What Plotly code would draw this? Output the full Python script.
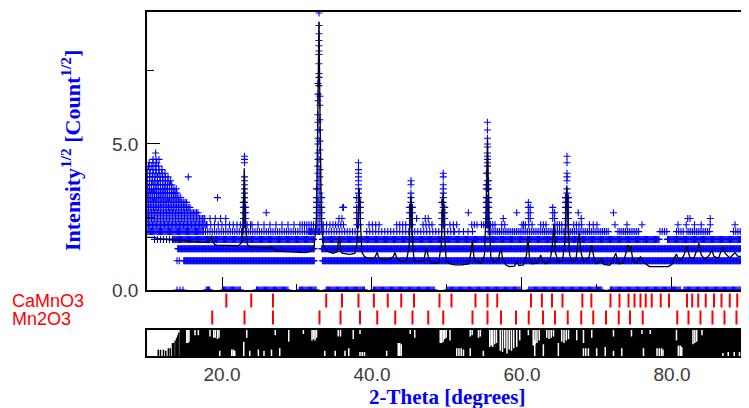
import numpy as np
import plotly.graph_objects as go

# ---------------- data ----------------
# observed intensities are sqrt(counts); bands per count level:
# (count, x_start, x_end, spacing in degrees)
obs_bands = [
    (0, 14.0, 14.8, 0.4), (0, 17.9, 18.4, 0.15), (0, 20.2, 22.5, 0.15), (0, 24.6, 28.8, 0.15),
    (0, 30.3, 32.6, 0.15), (0, 33.9, 39.1, 0.15), (0, 40.2, 48.4, 0.15), (0, 50.0, 59.8, 0.15),
    (0, 60.9, 70.7, 0.15), (0, 71.8, 81.1, 0.15), (0, 81.6, 90.3, 0.15),
    (1, 14.0, 14.3, 0.3), (1, 14.9, 32.3, 0.1), (1, 33.4, 90.3, 0.1),
    (2, 14.1, 32.3, 0.1), (2, 33.3, 90.3, 0.1),
    (3, 11.0, 13.5, 0.4), (3, 13.5, 32.3, 0.12), (3, 33.4, 78.3, 0.12), (3, 79.4, 90.3, 0.12),
    (4, 10.0, 17.5, 0.15), (4, 17.5, 31.5, 0.3), (4, 31.5, 33.0, 0.15), (4, 33.2, 38.2, 0.35),
    (4, 39.3, 51.0, 0.4), (4, 51.0, 53.7, 0.6), (4, 55.5, 71.5, 0.25), (4, 72.8, 75.7, 0.25),
    (4, 78.4, 79.3, 0.3), (4, 80.6, 81.5, 0.3), (4, 82.0, 85.1, 0.25), (4, 88.2, 90.3, 0.3),
    (5, 10.0, 18.0, 0.18), (5, 18.0, 21.5, 0.5), (5, 22.0, 24.0, 0.45), (5, 24.0, 30.0, 0.8),
    (5, 30.4, 32.3, 0.3), (5, 33.5, 34.5, 0.45), (5, 34.8, 36.4, 0.35), (5, 39.6, 41.3, 0.45),
    (5, 43.3, 44.6, 0.4), (5, 46.8, 48.2, 0.4), (5, 50.4, 51.7, 0.45), (5, 53.3, 54.0, 0.35),
    (5, 54.6, 56.4, 0.3), (5, 57.3, 57.7, 0.4), (5, 60.0, 61.5, 0.45), (5, 62.5, 63.2, 0.35),
    (5, 64.4, 65.3, 0.3), (5, 66.9, 68.2, 0.35), (5, 69.0, 70.0, 0.5),
    (6, 10.0, 17.7, 0.2), (6, 17.7, 21.0, 0.7),
    (7, 10.0, 16.8, 0.2), (8, 10.0, 15.8, 0.22), (9, 10.0, 15.3, 0.22),
    (10, 10.0, 14.7, 0.25), (11, 10.0, 14.2, 0.25), (12, 10.0, 13.9, 0.3),
    (13, 10.0, 13.5, 0.3), (14, 10.0, 13.2, 0.35), (15, 10.0, 12.9, 0.35),
    (16, 10.0, 12.5, 0.4), (17, 10.0, 12.2, 0.4), (18, 10.2, 11.8, 0.45),
    (19, 10.3, 11.5, 0.5), (20, 10.8, 11.6, 0.4),
]

# isolated observed points (x, count)
obs_single = [
    (11.15, 22), (15.5, 15), (19.4, 10), (25.9, 7), (36.2, 8), (52.85, 7), (59.3, 7),
    (57.5, 6), (72.2, 7), (72.4, 5), (74.0, 5), (76.0, 5), (80.8, 5), (81.9, 5),
    (82.4, 6), (83.0, 5), (83.9, 5), (85.1, 5), (85.1, 6), (88.4, 5), (82.1, 6),
    (67.5, 7), (67.9, 6), (47.1, 6), (47.5, 6), (45.95, 6), (35.6, 6), (36.0, 6),
    (36.1, 8), (60.2, 5),
]

# observed points stacked at the Bragg peaks: x and counts
peak_stack_x = [22.85, 23.0, 23.15, 32.8, 32.93, 33.05, 32.6, 33.3, 37.95, 38.2, 38.45,
                45.0, 45.2, 45.4, 49.3, 49.5, 49.7, 55.25, 55.4, 55.55, 60.85, 61.1,
                64.1, 64.35, 65.8, 66.0, 66.2]
peak_stack_n = [
    [9, 8, 7, 6, 5],
    [21, 20, 19, 15, 14, 13, 12, 11, 10, 9, 8, 7, 6, 5],
    [8, 7, 6, 5],
    [50, 45, 42, 36, 33, 30, 27, 25, 22, 20, 18, 16, 14, 12, 10, 9, 8, 7, 6, 5],
    [90, 82, 77, 73, 70, 67, 65, 60, 55, 53, 49],
    [44, 40, 34, 30, 26, 23, 20, 17, 15, 13, 11, 9, 8, 7, 6, 5],
    [12, 10, 9, 8, 7, 6, 5],
    [10, 8, 7, 6, 5],
    [10, 8, 7, 6, 5],
    [19, 17, 16, 15, 14, 13, 12, 11, 10, 9, 8, 7, 6, 5],
    [9, 8, 7, 6, 5],
    [8, 7, 6, 5],
    [14, 13, 11, 10, 9, 8, 7, 6, 5],
    [8, 7, 6, 5],
    [9, 7, 6, 5],
    [16, 15, 13, 12, 11, 10, 9, 8, 7, 6, 5],
    [8, 7, 6, 5],
    [16, 13, 12, 10, 9, 8, 7, 6, 5],
    [33, 30, 27, 25, 24, 22, 21, 20, 19, 18, 16, 14, 13, 12, 10, 9, 8, 7, 6, 5],
    [14, 12, 10, 9, 8, 7, 6, 5],
    [9, 8, 7, 6],
    [8, 7, 6],
    [8, 7, 6],
    [7, 6],
    [10, 9, 8, 7, 6, 5],
    [21, 19, 16, 15, 14, 12, 11, 10, 9, 8, 7, 6, 5],
    [10, 9, 8, 7, 6, 5],
]

# calculated profile
calc_x = [10.0, 11.0, 11.4, 12.5, 13.0, 14.5, 16.0, 17.3, 18.2, 18.45, 18.6, 18.75, 19.0, 19.3,
          21.0, 22.2, 22.6, 22.8, 22.97, 23.15, 23.35, 23.6, 25.0, 25.7, 26.4, 26.6, 26.8, 27.5,
          29.3, 30.1, 31.1, 31.8, 32.3, 32.6, 32.8, 32.93, 33.07, 33.25, 33.5, 33.8, 34.2, 34.8,
          35.3, 35.5, 35.64, 35.8, 36.0, 37.0, 37.7, 38.0, 38.15, 38.3, 38.45, 38.65, 39.0, 39.5,
          40.3, 40.55, 40.7, 40.9, 41.3, 42.4, 42.85, 43.07, 43.3, 43.7, 44.6, 44.95, 45.1, 45.2,
          45.35, 45.6, 46.0, 46.9, 47.1, 47.3, 47.5, 47.9, 48.9, 49.25, 49.4, 49.5, 49.65, 49.9,
          50.3, 51.0, 52.0, 52.9, 53.2, 53.4, 53.6, 53.9, 54.6, 55.0, 55.2, 55.4, 55.6, 55.85,
          56.2, 56.8, 57.0, 57.2, 57.4, 57.8, 58.3, 59.0, 59.3, 59.6, 60.2, 60.6, 60.8, 61.0,
          61.3, 62.0, 62.3, 62.5, 62.7, 63.1, 63.7, 64.0, 64.27, 64.45, 64.8, 65.4, 65.7, 65.85,
          65.96, 66.1, 66.35, 66.7, 67.2, 67.45, 67.64, 67.85, 68.2, 68.9, 69.3, 69.6, 69.9,
          70.3, 70.6, 70.9, 71.4, 71.7, 72.0, 72.5, 72.9, 73.5, 73.9, 74.1, 74.3, 74.5, 74.8,
          75.3, 75.8, 76.3, 76.7, 77.0, 79.5, 80.0, 80.2, 80.6, 80.9, 81.3, 81.6, 82.0, 82.4,
          82.9, 83.3, 83.6, 83.9, 84.4, 85.0, 85.3, 85.6, 86.2, 86.5, 86.8, 87.1, 87.7, 88.1,
          88.4, 88.8, 89.5, 89.96, 90.3]
calc_y = [1.80, 1.80, 1.76, 1.75, 1.72, 1.70, 1.67, 1.65, 1.62, 1.75, 1.86, 1.68, 1.56, 1.54,
          1.52, 1.52, 1.62, 2.3, 4.17, 2.2, 1.6, 1.48, 1.45, 1.43, 1.43, 1.48, 1.40, 1.33,
          1.31, 1.28, 1.28, 1.32, 1.5, 2.5, 6.0, 9.19, 6.0, 2.4, 1.55, 1.40, 1.31, 1.26,
          1.3, 1.55, 1.83, 1.45, 1.26, 1.22, 1.25, 1.6, 2.6, 3.48, 2.4, 1.3, 1.14, 1.08,
          1.08, 1.2, 1.29, 1.1, 1.05, 1.05, 1.15, 1.28, 1.1, 1.0, 1.0, 1.5, 2.6, 3.22,
          2.0, 1.0, 0.97, 1.0, 1.25, 1.43, 1.15, 0.91, 0.94, 1.6, 2.8, 3.33, 2.0, 1.0,
          0.91, 0.86, 0.86, 0.89, 1.3, 1.71, 1.1, 0.97, 0.92, 1.2, 2.6, 5.19, 2.5, 1.1,
          0.97, 1.0, 1.25, 1.43, 1.1, 0.86, 0.80, 0.82, 0.97, 0.84, 0.86, 1.2, 1.83, 1.1,
          0.9, 0.92, 1.05, 1.20, 1.0, 0.90, 0.95, 1.4, 2.28, 1.3, 0.97, 1.0, 1.6, 2.8,
          3.54, 2.6, 1.2, 0.97, 1.05, 1.6, 1.94, 1.3, 0.97, 1.1, 1.54, 1.1, 0.90,
          0.95, 1.08, 0.88, 0.86, 0.85, 0.95, 1.26, 0.90, 0.92, 1.3, 1.54, 1.35, 1.5, 1.0,
          0.92, 1.14, 0.92, 0.86, 0.80, 0.80, 0.88, 1.05, 1.23, 1.02, 1.05, 1.20, 1.48, 1.1,
          1.08, 1.35, 1.60, 1.2, 1.05, 1.2, 1.37, 1.15, 1.08, 1.3, 1.46, 1.25, 1.10, 1.2,
          1.28, 1.15, 1.15, 1.37, 1.2]

# reflection positions (degrees 2-theta)
phase_names = ["CaMnO3", "Mn2O3"]
camno3_ticks = [20.58, 23.9, 26.8, 33.9, 36.0, 38.2, 40.25, 42.1, 43.9, 45.6, 49.0, 50.6, 53.8,
                55.4, 56.7, 61.2, 62.65, 64.0, 65.4, 68.05, 69.25, 71.8, 73.0, 74.2, 75.0, 75.8,
                76.5, 77.3, 78.5, 79.6, 82.0, 82.7, 83.5, 84.5, 85.6, 86.6, 87.7, 88.7, 89.7]
mn2o3_ticks = [18.7, 23.0, 26.8, 33.0, 35.8, 38.4, 40.7, 43.1, 45.4, 47.5, 49.5, 53.4, 55.4, 57.2,
               59.2, 60.9, 62.8, 64.4, 66.1, 67.9, 69.5, 71.2, 72.9, 74.4, 76.1, 80.7, 82.2,
               83.8, 85.4, 87.0, 88.6, 90.0]

# difference strip (clipped): solid from this angle, white gaps from top / bottom, left bars
diff_solid_start = 14.35
diff_top_gaps = [(15.3, 0.5), (15.45, 0.5), (15.6, 0.55), (16.4, 0.8), (16.85, 0.8), (18.4, 0.75),
                 (18.9, 0.7), (19.1, 0.7), (19.4, 0.65), (19.6, 0.7), (23.3, 0.7), (27.1, 0.8),
                 (28.9, 0.55), (30.85, 0.85), (32.0, 0.6), (32.2, 0.65), (32.4, 0.6), (32.6, 0.7),
                 (35.5, 0.75), (35.8, 0.75), (37.5, 0.65), (38.4, 0.85), (45.1, 0.85), (45.7, 0.7),
                 (49.1, 0.5), (49.3, 0.5), (49.5, 0.55), (49.7, 0.65), (49.9, 0.7), (50.4, 0.6),
                 (53.1, 0.75), (53.35, 0.8), (54.2, 0.7), (54.45, 0.75), (55.7, 0.35), (55.9, 0.4),
                 (56.1, 0.35), (56.35, 0.45), (56.6, 0.5), (57.1, 0.2), (57.4, 0.15), (57.7, 0.3),
                 (58.0, 0.1), (58.3, 0.25), (58.6, 0.2), (58.9, 0.3), (59.3, 0.35), (59.7, 0.6),
                 (60.85, 0.8), (61.5, 0.4), (61.75, 0.45), (62.0, 0.5), (62.3, 0.6), (63.3, 0.7),
                 (63.6, 0.65), (63.9, 0.7), (64.2, 0.75), (65.3, 0.55), (65.6, 0.5), (65.9, 0.6),
                 (66.2, 0.65), (67.3, 0.6), (68.2, 0.5), (69.3, 0.7), (72.2, 0.75), (74.6, 0.75),
                 (76.0, 0.85), (77.1, 0.85), (80.6, 0.6), (82.8, 0.45), (83.05, 0.5), (83.3, 0.55),
                 (84.0, 0.8)]
diff_bottom_gaps = [(19.7, 0.2), (21.3, 0.25), (21.5, 0.25), (21.7, 0.2), (22.9, 0.55), (23.7, 0.2),
                    (24.85, 0.25), (25.6, 0.2), (26.6, 0.25), (27.7, 0.3), (33.7, 0.2), (35.1, 0.2),
                    (36.4, 0.2), (36.9, 0.3), (38.4, 0.15), (38.7, 0.15), (39.0, 0.15), (41.96, 0.2),
                    (43.5, 0.5), (43.7, 0.5), (43.9, 0.45), (51.3, 0.3), (51.6, 0.3), (51.9, 0.3),
                    (52.2, 0.25), (53.1, 0.3), (54.85, 0.2), (61.7, 0.6), (62.85, 0.45), (64.85, 0.5),
                    (68.2, 0.3), (68.5, 0.3), (68.85, 0.3), (69.96, 0.3), (71.1, 0.35), (72.2, 0.2),
                    (73.3, 0.3), (76.2, 0.3), (78.0, 0.3), (78.3, 0.3), (78.6, 0.3), (78.8, 0.25),
                    (80.85, 0.4), (81.1, 0.4), (81.3, 0.35), (86.8, 0.12), (87.5, 0.15), (88.3, 0.15),
                    (89.0, 0.15), (89.7, 0.12)]
diff_left_bars = [(11.5, 0.24), (11.8, 0.24), (12.2, 0.24), (12.5, 0.2), (12.85, 0.3), (13.1, 0.3),
                  (13.4, 0.5), (13.55, 0.5), (13.75, 0.6), (13.95, 0.7), (14.1, 0.8), (14.25, 0.9)]

x_tick_vals = [20, 40, 60, 80]
x_tick_text = ["20.0", "40.0", "60.0", "80.0"]
y_tick_vals = [0, 5]
y_tick_text = ["0.0", "5.0"]

X_RANGE = [10.0, 90.27]

# ---------------- build observed arrays ----------------
obs_x, obs_y = [], []
for n, a, b, s in obs_bands:
    xx = np.arange(a, b + 1e-9, s)
    obs_x.extend(xx.tolist())
    obs_y.extend([np.sqrt(n)] * len(xx))
for x, n in obs_single:
    obs_x.append(x)
    obs_y.append(np.sqrt(n))
for x, ns in zip(peak_stack_x, peak_stack_n):
    for n in ns:
        obs_x.append(x)
        obs_y.append(np.sqrt(n))

fig = go.Figure()

fig.add_trace(go.Scatter(
    x=obs_x, y=obs_y, xaxis="x2", yaxis="y", mode="markers",
    marker=dict(symbol="cross-thin", size=5, color="#0000ff",
                line=dict(color="#0000ff", width=1.1)),
    hoverinfo="skip", showlegend=False))
fig.add_trace(go.Scatter(
    x=calc_x, y=calc_y, xaxis="x2", yaxis="y", mode="lines",
    line=dict(color="black", width=1.3), hoverinfo="skip", showlegend=False))

# reflection tick rows
for row, ticks in zip([1, 0], [camno3_ticks, mn2o3_ticks]):
    fig.add_trace(go.Scatter(
        x=ticks, y=[row] * len(ticks), xaxis="x", yaxis="y2", mode="markers",
        marker=dict(symbol="line-ns", size=10, color="red", line=dict(color="red", width=2)),
        hoverinfo="skip", showlegend=False))

# difference strip
fig.add_trace(go.Scatter(
    x=[diff_solid_start, X_RANGE[1] + 1, X_RANGE[1] + 1, diff_solid_start, diff_solid_start],
    y=[0, 0, 1, 1, 0], xaxis="x", yaxis="y3", mode="lines", fill="toself",
    fillcolor="black", line=dict(width=0, color="black"), hoverinfo="skip", showlegend=False))
gx, gy = [], []
for x, d in diff_top_gaps:
    gx += [x, x, None]
    gy += [1.0, d, None]
for x, h in diff_bottom_gaps:
    gx += [x, x, None]
    gy += [0.0, h, None]
fig.add_trace(go.Scatter(x=gx, y=gy, xaxis="x", yaxis="y3", mode="lines",
                         line=dict(color="white", width=1.5), hoverinfo="skip", showlegend=False))
bx, by = [], []
for x, h in diff_left_bars:
    bx += [x, x, None]
    by += [0.0, h, None]
fig.add_trace(go.Scatter(x=bx, y=by, xaxis="x", yaxis="y3", mode="lines",
                         line=dict(color="black", width=1.5), hoverinfo="skip", showlegend=False))

# page is offset by the 8px body margin; work in page pixels below
OFF = 8
W, H = 749 - OFF, 408 - OFF
L, R, T, B = 147 - OFF, 0, 12 - OFF, 408 - 356
PH = H - T - B
PW = W - L - R
def py(p):  # page pixel y -> paper
    return (356 - p) / PH
def px(p):  # page pixel x -> paper
    return (p - 147) / PW

tick_font = dict(family="Liberation Sans, Arial, sans-serif", size=19, color="#3a3a3a")

fig.update_layout(
    width=W, height=H, margin=dict(l=L, r=R, t=T, b=B, autoexpand=False),
    paper_bgcolor="white", plot_bgcolor="white",
    xaxis=dict(domain=[0, 1], range=X_RANGE, anchor="y3", showline=True, linecolor="black",
               linewidth=1.5, mirror=True, ticks="", tickvals=x_tick_vals, ticktext=x_tick_text,
               tickfont=tick_font, showgrid=False, zeroline=False, ticklabelstandoff=0),
    xaxis2=dict(domain=[0, 1], range=X_RANGE, matches="x", anchor="y", showline=True,
                linecolor="black", linewidth=1.5, mirror=True, ticks="inside", ticklen=13,
                tickwidth=1.3, tickcolor="black", tickvals=x_tick_vals, showticklabels=False,
                minor=dict(tickvals=[30, 50, 70], ticks="inside", ticklen=6, tickcolor="black",
                           tickwidth=1.3),
                showgrid=False, zeroline=False),
    yaxis=dict(domain=[py(290), 1.0], range=[0, 9.52], anchor="x2", showline=True,
               linecolor="black", linewidth=1.5, ticks="inside", ticklen=13, tickwidth=1.3,
               tickcolor="black", tickvals=y_tick_vals, ticktext=y_tick_text, tickfont=tick_font,
               minor=dict(tickvals=[2.5, 7.5], ticks="inside", ticklen=7, tickcolor="black",
                          tickwidth=1.3),
               showgrid=False, zeroline=False, ticklabelstandoff=3),
    yaxis2=dict(domain=[py(330), py(290)], range=[-0.735, 1.618], anchor="x", visible=False),
    yaxis3=dict(domain=[0, py(330)], range=[0, 1], anchor="x", showline=True, linecolor="black",
                linewidth=1.5, ticks="", showticklabels=False, showgrid=False, zeroline=False),
)

title_font = dict(family="Liberation Serif, Times New Roman, serif", size=22, color="#0000ff")
fig.add_annotation(text="<b>Intensity<sup>1/2</sup> [Count<sup>1/2</sup>]</b>", textangle=-90,
                   x=px(71), y=py(151), xref="paper", yref="paper", xanchor="center",
                   yanchor="middle", showarrow=False, font=title_font)
fig.add_annotation(text="<b>2-Theta [degrees]</b>", x=px(447), y=py(397), xref="paper",
                   yref="paper", xanchor="center", yanchor="middle", showarrow=False,
                   font=dict(family="Liberation Serif, Times New Roman, serif", size=21,
                             color="#0000ff"))
label_font = dict(family="Liberation Sans, Arial, sans-serif", size=18, color="#ff0000")
for name, yy in zip(phase_names, [301, 319]):
    fig.add_annotation(text=name, x=px(10), y=py(yy), xref="paper", yref="paper",
                       xanchor="left", yanchor="middle", showarrow=False, font=label_font)

fig.write_html("out.html")
